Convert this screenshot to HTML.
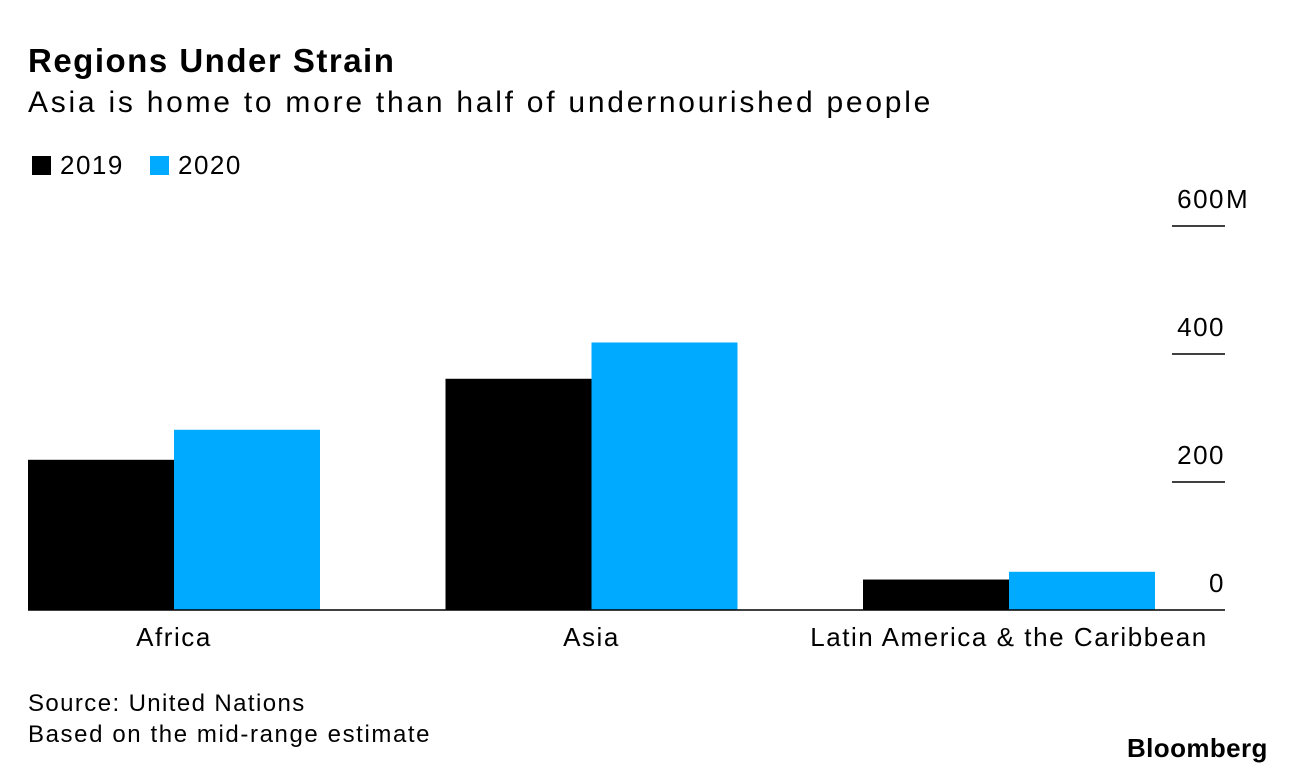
<!DOCTYPE html>
<html><head><meta charset="utf-8"><style>
body{margin:0;background:#fff;font-family:"Liberation Sans",sans-serif;}
#wrap{position:relative;width:1296px;height:774px;overflow:hidden;}
.t{position:absolute;white-space:nowrap;color:#000;}
</style></head><body>
<div id="wrap">
<div class="t" style="left:28px;top:42px;font-size:33px;font-weight:bold;letter-spacing:1.5px">Regions Under Strain</div>
<div class="t" style="left:28px;top:86px;font-size:30px;letter-spacing:2.75px">Asia is home to more than half of undernourished people</div>
<div class="t" style="left:32px;top:150px;font-size:26px;letter-spacing:1.5px"><span style="display:inline-block;width:19px;height:19px;background:#000;vertical-align:-1px;margin-right:9px"></span>2019</div>
<div class="t" style="left:150px;top:150px;font-size:26px;letter-spacing:1.5px"><span style="display:inline-block;width:19px;height:19px;background:#00aaff;vertical-align:-1px;margin-right:9px"></span>2020</div>
<svg id="chart" width="1296" height="774" style="position:absolute;left:0;top:0"></svg>
<div class="t" style="left:28px;top:690px;font-size:24px;letter-spacing:1.4px">Source: United Nations</div>
<div class="t" style="left:28px;top:721px;font-size:24px;letter-spacing:1.6px">Based on the mid-range estimate</div>
<div class="t" style="left:1127px;top:733px;font-size:26px;font-weight:bold;letter-spacing:0.4px">Bloomberg</div>
</div>
<script>
const categories=["Africa","Asia","Latin America & the Caribbean"];
const values2019=[234.7,361.3,47.6];
const values2020=[281.6,418.0,59.7];
const tickValues=[0,200,400,600];
const tickLabels=["0","200","400","600"];
const svg=document.getElementById('chart');
const NS="http://www.w3.org/2000/svg";
const y0=610,pxPer=128/200;
function y(v){return y0-v*pxPer;}
const bandStart=28,step=417.5,barW=146;
function xCenter(i){return bandStart+barW+i*step;}
function mk(tag,attrs){const e=document.createElementNS(NS,tag);for(const k in attrs)e.setAttribute(k,attrs[k]);svg.appendChild(e);return e;}
tickValues.forEach((v,i)=>{
  if(v!==0){const l=mk('line',{x1:1172,x2:1225,y1:y(v),y2:y(v),stroke:'#000','stroke-width':1.5});
  
  }
  const t=mk('text',{x:1225,y:y(v)-18,'text-anchor':'end','font-size':26,'letter-spacing':1.5,'font-family':'Liberation Sans, sans-serif'});
  t.textContent=tickLabels[i];
  
  
  if(i===tickValues.length-1){
    const m=mk('text',{x:1226,y:y(v)-18,'font-size':26,'font-family':'Liberation Sans, sans-serif'});
    m.textContent='M';
    
    
  }
});
categories.forEach((c,i)=>{
  const cx=xCenter(i);
  const b1=mk('rect',{x:cx-barW,y:y(values2019[i]),width:barW,height:y0-y(values2019[i]),fill:'#000'});
  
  
  const b2=mk('rect',{x:cx,y:y(values2020[i]),width:barW,height:y0-y(values2020[i]),fill:'#00aaff'});
  
  
  const t=mk('text',{x:cx,y:646,'text-anchor':'middle','font-size':26,'letter-spacing':1.55,'font-family':'Liberation Sans, sans-serif'});
  t.textContent=c;
  
  
});
const base=mk('line',{x1:28,x2:1225,y1:y0,y2:y0,stroke:'#000','stroke-width':1.5});


</script>
</body></html>
